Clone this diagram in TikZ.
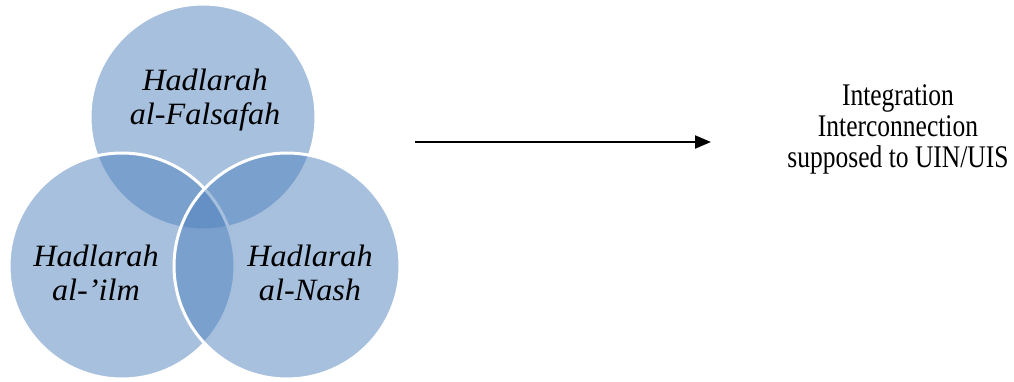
\documentclass[tikz,border=0pt]{standalone}
\usepackage{fontspec}
\setmainfont{Liberation Serif}
\usetikzlibrary{positioning, arrows.meta}
\definecolor{Accent}{RGB}{79, 129, 189}
\tikzset{
    cerchio/.style = {fill=Accent, fill opacity=0.5, draw=white, line width=3pt},
    testo venn/.style = {align=center, anchor=base, xscale=1.04, font=\itshape\fontsize{31}{33.5}\selectfont, inner sep=0pt},
    freccia/.style = {arrows = {-Triangle[length=16pt, width=13pt]}, line width=2pt}
}
\begin{document}
\begin{tikzpicture}[
    x=1pt, y=-1pt,
    testo destra/.style = {align=center, anchor=base, xscale=0.81, font=\fontsize{31.5}{31}\selectfont, inner sep=0pt}
    ]
    \useasboundingbox (0,0) rectangle (1014,381);

    %%% Venn
    % falsafah
    \path[cerchio] (203,117) circle[radius=113];
    % ilm
    \path[cerchio] (122,266) circle[radius=113];
    % nash
    \path[cerchio] (287,266) circle[radius=113];

    % labels (anchored on the last line)
    \node [testo venn] (falsafah) at (205,124) {Hadlarah\\al-Falsafah};
    \node [testo venn] (ilm)      at (96,300)  {Hadlarah\\al-'ilm};
    \node [testo venn] (nash)     at (310,300) {Hadlarah\\al-Nash};

    %%% Arrow
    \coordinate (inizio) at (415,142);
    \coordinate (fine)   at (711,142);
    \draw[freccia] (inizio) -- (fine);

    \node [testo destra] (integrazione) at (898,167) {Integration\\Interconnection\\supposed to UIN/UIS};
\end{tikzpicture}
\end{document}
